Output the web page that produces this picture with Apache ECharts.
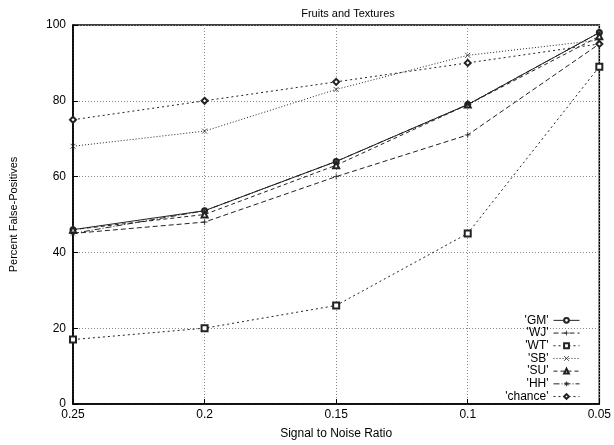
<!DOCTYPE html>
<html>
<head>
<meta charset="utf-8">
<script src="https://cdn.jsdelivr.net/npm/echarts@6/dist/echarts.min.js"></script>
<style>
html, body { margin: 0; padding: 0; background: #fff; }
#chart { width: 614px; height: 445px; }
</style>
</head>
<body>
<div id="chart"></div>
<script>
// signal to noise ratio, left to right
const snr = ['0.25', '0.2', '0.15', '0.1', '0.05']
const yTicks = [0, 20, 40, 60, 80, 100]

const gm = [46, 51, 64, 79, 98]
const wj = [45, 48, 60, 71, 95]
const wt = [17, 20, 26, 45, 89]
const sb = [68, 72, 83, 92, 96]
const su = [46, 50, 63, 79, 97]
const hh = [45, 51, 64, 79, 98]
const chance = [75, 80, 85, 90, 95]

const plus = 'path://M5,0L5,10M0,5L10,5'
const cross = 'path://M0,0L10,10M10,0L0,10'
const star = 'path://M5,0L5,10M0,5L10,5M1.5,1.5L8.5,8.5M8.5,1.5L1.5,8.5'

function mk (name, data, symbol, dash, size) {
  return {
    name: name,
    type: 'line',
    data: data,
    symbol: symbol,
    symbolSize: size || 5,
    showSymbol: true,
    animation: false,
    lineStyle: { color: '#222', width: 1, type: dash },
    itemStyle: { color: '#222', borderColor: '#222', borderWidth: 0.8 },
    emphasis: { disabled: true }
  }
}

let myChart = echarts.init(document.getElementById('chart'))
myChart.setOption({
  animation: false,
  backgroundColor: '#fff',
  textStyle: { fontFamily: 'Liberation Sans', color: '#000' },
  title: {
    text: 'Fruits and Textures',
    left: 343,
    top: 3,
    textAlign: 'center',
    textStyle: { fontSize: 11, fontWeight: 'normal', color: '#000', fontFamily: 'Liberation Sans' }
  },
  legend: {
    orient: 'vertical',
    right: 34,
    top: 314,
    align: 'right',
    itemWidth: 26,
    itemHeight: 6,
    itemGap: 0,
    padding: 0,
    itemStyle: { borderWidth: 0.8 },
    lineStyle: { width: 1 },
    textStyle: { fontSize: 12, lineHeight: 12.7, color: '#000', padding: [0, 0, 0, 0] },
    data: ["'GM'", "'WJ'", "'WT'", "'SB'", "'SU'", "'HH'", "'chance'"]
  },
  grid: {
    left: 73,
    right: 1,
    top: 25,
    bottom: 33,
    show: true,
    borderColor: '#000',
    borderWidth: 1.5,
    backgroundColor: 'transparent'
  },
  xAxis: {
    type: 'category',
    data: snr,
    boundaryGap: false,
    name: 'Signal to Noise Ratio',
    nameLocation: 'middle',
    nameGap: 24,
    nameTextStyle: { fontSize: 12, color: '#000' },
    axisLine: { lineStyle: { color: '#000', width: 1.5 } },
    axisTick: { inside: true, length: 5, lineStyle: { color: '#000' } },
    axisLabel: { fontSize: 12, color: '#000', margin: 5 },
    splitLine: { show: true, lineStyle: { color: '#888', type: [1, 2], width: 1 } }
  },
  yAxis: {
    type: 'value',
    min: 0,
    max: 100,
    interval: 20,
    name: 'Percent False-Positives',
    nameLocation: 'middle',
    nameGap: 54,
    nameTextStyle: { fontSize: 11, color: '#000' },
    axisLine: { show: true, lineStyle: { color: '#000', width: 1.5 } },
    axisTick: { show: true, inside: true, length: 5, lineStyle: { color: '#000' } },
    axisLabel: {
      fontSize: 12,
      color: '#000',
      margin: 7,
      formatter: function (v) { return yTicks.indexOf(v) >= 0 ? String(v) : '' }
    },
    splitLine: { show: true, lineStyle: { color: '#888', type: [1, 2], width: 1 } }
  },
  series: [
    mk("'GM'", gm, 'emptyCircle', 'solid', 5),
    mk("'WJ'", wj, plus, [5, 3], 6),
    mk("'WT'", wt, 'emptyRect', [2, 3], 6),
    mk("'SB'", sb, cross, [1, 2], 5),
    mk("'SU'", su, 'emptyTriangle', [4, 3], 6),
    mk("'HH'", hh, star, [6, 2, 1, 2], 6),
    mk("'chance'", chance, 'emptyDiamond', [2, 3], 6)
  ]
})
</script>
</body>
</html>
